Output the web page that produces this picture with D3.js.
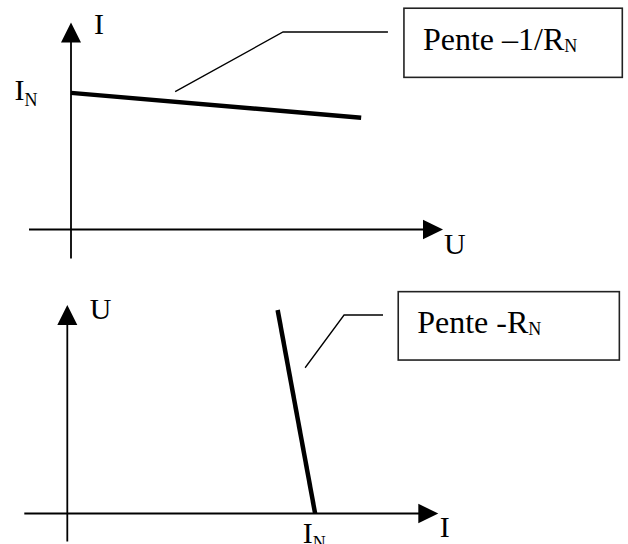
<!DOCTYPE html>
<html>
<head>
<meta charset="utf-8">
<script src="https://cdn.jsdelivr.net/npm/d3@7"></script>
</head>
<body style="margin:0">
<script>
// Norton characteristic, top graph: I as a function of U
const topU = [0, 7.8];
const topI = [6.6, 5.4];
// bottom graph: U as a function of I
const botI = [5.67, 6.68];
const botU = [9.76, 0];

// axis names and slope notes
const topAxisNames = ["U", "I"];
const botAxisNames = ["I", "U"];
const slopeTexts = [["Pente –1/R", "N"], ["Pente -R", "N"]];
const originMark = ["I", "N"];

// leader line and note box, in graph units
const topLeader = [[2.8, 6.66], [5.7, 9.54], [8.52, 9.54]];
const topBox = { x0: 8.95, x1: 14.82, y0: 7.35, y1: 10.69 };
const botLeader = [[6.41, 6.99], [7.46, 9.52], [8.51, 9.52]];
const botBox = { x0: 8.92, x1: 14.88, y0: 7.36, y1: 10.64 };

const svg = d3.select("body").append("svg")
    .attr("width", 628)
    .attr("height", 544);

// scales for both graphs
const xTop = d3.scaleLinear().domain([0, 10]).range([71, 443]);
const yTop = d3.scaleLinear().domain([0, 10]).range([229.5, 22.5]);
const xBot = d3.scaleLinear().domain([0, 10]).range([67.3, 438.3]);
const yBot = d3.scaleLinear().domain([0, 10]).range([513.5, 305]);

const line = d3.line();

function drawAxes(x, y, leftOver, downOver) {
    const ox = x(0), oy = y(0);
    const xEnd = x.range()[1], yEnd = y.range()[1];
    // horizontal axis
    svg.append("line")
        .attr("x1", ox - leftOver).attr("y1", oy)
        .attr("x2", xEnd - 18).attr("y2", oy)
        .attr("stroke", "#000").attr("stroke-width", 1.8);
    svg.append("path")
        .attr("d", `M${xEnd},${oy}L${xEnd - 20},${oy - 9.7}L${xEnd - 20},${oy + 9.7}Z`)
        .attr("fill", "#000");
    // vertical axis
    svg.append("line")
        .attr("x1", ox).attr("y1", oy + downOver)
        .attr("x2", ox).attr("y2", yEnd + 18)
        .attr("stroke", "#000").attr("stroke-width", 1.8);
    svg.append("path")
        .attr("d", `M${ox},${yEnd}L${ox - 10},${yEnd + 20}L${ox + 10},${yEnd + 20}Z`)
        .attr("fill", "#000");
}

function addText(px, py, size) {
    return svg.append("text")
        .attr("x", px).attr("y", py)
        .style("font-family", '"Liberation Serif"')
        .style("font-size", size + "px")
        .style("fill", "#000");
}

function drawNote(x, y, leader, box, label) {
    svg.append("path")
        .attr("d", line(leader.map(p => [x(p[0]), y(p[1])])))
        .attr("fill", "none")
        .attr("stroke", "#000")
        .attr("stroke-width", 1.3);
    svg.append("rect")
        .attr("x", x(box.x0)).attr("y", y(box.y1))
        .attr("width", x(box.x1) - x(box.x0))
        .attr("height", y(box.y0) - y(box.y1))
        .attr("fill", "none")
        .attr("stroke", "#222")
        .attr("stroke-width", 1.6);
    const t = addText(x(box.x0) + 19, y(box.y1) + 41.5, 32);
    t.append("tspan").text(label[0]);
    t.append("tspan").attr("dy", 2).style("font-size", "18px").text(label[1]);
}

function subLabel(px, py, parts, shift) {
    const t = addText(px, py, 30);
    t.append("tspan").text(parts[0]);
    t.append("tspan").attr("dy", shift).style("font-size", "18px").text(parts[1]);
}

// top graph
drawAxes(xTop, yTop, 42, 29);
svg.append("path")
    .attr("d", line(topU.map((u, k) => [xTop(u), yTop(topI[k])])))
    .attr("stroke", "#000")
    .attr("stroke-width", 4.5)
    .attr("fill", "none");
addText(xTop.range()[1] + 1, yTop(0) + 24.5, 30).text(topAxisNames[0]);
addText(xTop(0) + 23, yTop.range()[1] + 11.5, 30).text(topAxisNames[1]);
subLabel(14.5, yTop(topI[0]) + 7.5, originMark, 6);
drawNote(xTop, yTop, topLeader, topBox, slopeTexts[0]);

// bottom graph
drawAxes(xBot, yBot, 43, 28);
svg.append("path")
    .attr("d", line(botI.map((v, k) => [xBot(v), yBot(botU[k])])))
    .attr("stroke", "#000")
    .attr("stroke-width", 4.5)
    .attr("fill", "none");
addText(xBot.range()[1] + 1.5, yBot(0) + 23.5, 30).text(botAxisNames[0]);
addText(xBot(0) + 22.5, yBot.range()[1] + 13.5, 30).text(botAxisNames[1]);
subLabel(xBot(botI[1]) - 12.5, yBot(0) + 29.5, originMark, 6);
drawNote(xBot, yBot, botLeader, botBox, slopeTexts[1]);
</script>
</body>
</html>
